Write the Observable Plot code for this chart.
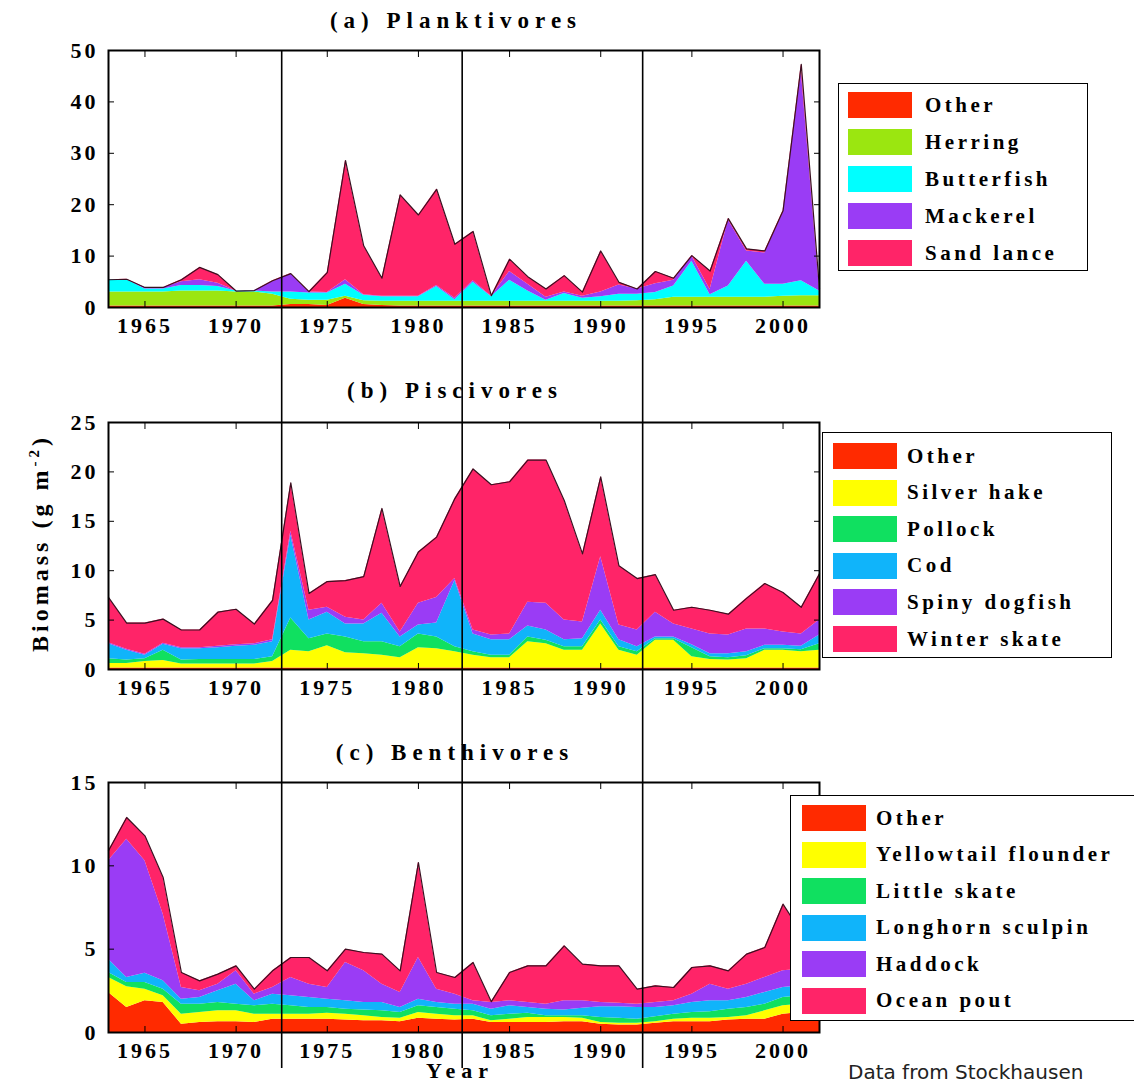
<!DOCTYPE html>
<html><head><meta charset="utf-8">
<script src="https://cdn.jsdelivr.net/npm/d3@7"></script>
<script src="https://cdn.jsdelivr.net/npm/@observablehq/plot@0.6"></script>
<style>
html,body{margin:0;padding:0;background:#fff;overflow:hidden;}
#fig{position:relative;width:1134px;height:1086px;overflow:hidden;font-family:"Liberation Serif","Times New Roman",serif;color:#000;}
.panel{position:absolute;left:0;}
.title{position:absolute;font-weight:bold;font-size:23px;letter-spacing:6px;white-space:nowrap;transform:translate(-50%,-50%);}
.legend{position:absolute;border:1.5px solid #000;background:#fff;box-sizing:border-box;}
.row{position:absolute;display:flex;align-items:center;}
.sw{width:64px;height:26px;}
.lt{font-weight:bold;font-size:21px;letter-spacing:3.5px;white-space:nowrap;}
.ylab{position:absolute;font-weight:bold;font-size:24px;letter-spacing:4px;white-space:nowrap;transform:translate(-50%,-50%) rotate(-90deg);}
.caption{position:absolute;font-family:"DejaVu Sans",sans-serif;font-size:20px;color:#222;white-space:nowrap;}
</style></head>
<body><div id="fig"></div>
<script>
const years = [1963,1964,1965,1966,1967,1968,1969,1970,1971,1972,1973,1974,1975,1976,1977,1978,1979,1980,1981,1982,1983,1984,1985,1986,1987,1988,1989,1990,1991,1992,1993,1994,1995,1996,1997,1998,1999,2000,2001,2002];
const xTicks = [1965,1970,1975,1980,1985,1990,1995,2000];
const regimeYears = [1972.5,1982.4,1992.3];

// (a) Planktivores
const plNames = ["Other","Herring","Butterfish","Mackerel","Sand lance"];
const plColors = ["#ff2a00","#9be610","#00ffff","#9a3cf5","#ff2468"];
const plOther = [0.3,0.3,0.3,0.3,0.3,0.3,0.3,0.3,0.3,0.3,0.6,0.6,0.4,1.8,0.6,0.4,0.3,0.3,0.3,0.3,0.3,0.3,0.3,0.3,0.3,0.3,0.3,0.3,0.3,0.3,0.3,0.3,0.3,0.3,0.3,0.3,0.3,0.3,0.3,0.3];
const plHerring = [2.7,2.7,2.7,2.7,2.9,2.9,2.9,2.7,2.7,2.3,1.0,0.8,1.0,0.4,0.7,0.8,0.9,0.9,0.9,0.9,0.9,0.9,0.9,0.9,0.9,0.9,0.9,0.9,0.9,1.0,1.2,1.7,1.7,1.7,1.7,1.7,1.7,1.9,2.0,2.0];
const plButterfish = [2.4,2.4,0.6,0.6,1.1,1.1,0.9,0.2,0.2,0.4,1.4,1.4,1.4,2.3,1.1,0.9,0.9,0.9,2.9,0.3,3.7,0.9,4.1,2.0,0.2,1.5,0.6,0.9,1.4,1.3,1.4,2.2,7.0,0.5,2.2,7.0,2.5,2.3,2.9,0.9];
const plMackerel = [0,0,0.3,0.3,0.7,1.1,0.6,0,0.1,2.0,3.5,0.2,0.1,0.9,0.1,0.1,0.1,0.1,0.2,0.3,0.3,0.1,1.7,1.3,0.6,0.3,0.4,0.9,1.8,1.0,1.7,1.1,1.0,1.0,12.8,2.0,6.1,13.9,40.8,0.4];
const plSandLance = [0,0.1,0,0,0.4,2.4,1.7,0,0,0.2,0.1,0.1,3.9,23.2,9.5,3.5,19.7,15.8,18.7,10.5,9.6,0.1,2.4,1.5,1.6,3.2,0.8,8.0,0.5,0,2.4,0.4,0.1,3.6,0.3,0.4,0.4,0.4,1.3,0.1];

// (b) Piscivores
const pvNames = ["Other","Silver hake","Pollock","Cod","Spiny dogfish","Winter skate"];
const pvColors = ["#ff2a00","#ffff00","#10e060","#10b4fa","#9a3cf5","#ff2468"];
const pvOther = [0.15,0.15,0.15,0.15,0.15,0.15,0.15,0.15,0.15,0.15,0.15,0.15,0.15,0.15,0.15,0.15,0.15,0.15,0.15,0.15,0.15,0.15,0.15,0.15,0.15,0.15,0.15,0.15,0.15,0.15,0.15,0.15,0.15,0.15,0.15,0.15,0.15,0.15,0.15,0.15];
const pvSilverHake = [0.45,0.45,0.65,0.75,0.4,0.4,0.4,0.4,0.4,0.65,1.8,1.65,2.25,1.55,1.45,1.3,1.05,2.05,1.95,1.65,1.3,1.05,1.05,2.65,2.45,1.8,1.8,4.45,1.8,1.3,2.8,2.8,1.15,0.85,0.8,0.95,1.8,1.8,1.65,1.8];
const pvPollock = [0.5,0.35,0.3,1.05,0.4,0.45,0.45,0.45,0.45,0.5,3.25,1.3,1.2,1.6,1.2,1.35,1.1,1.4,1.2,0.5,0.35,0.25,0.25,0.5,0.35,0.35,0.35,0.4,0.35,0.35,0.15,0.15,0.9,0.3,0.25,0.3,0.15,0.15,0.2,0.65];
const pvCod = [1.5,1.0,0.35,0.6,1.15,1.1,1.2,1.35,1.45,1.5,8.4,1.9,2.2,1.3,1.8,2.9,1.0,0.9,1.4,6.7,1.8,1.55,1.55,1.1,1.05,0.7,0.8,1.0,0.7,0.5,0.2,0.2,0.3,0.3,0.4,0.4,0.35,0.35,0.35,0.9];
const pvDogfish = [0.1,0.1,0.1,0.1,0.1,0.1,0.15,0.15,0.15,0.2,0.4,1.0,0.5,0.7,0.4,1.0,0.5,2.2,2.6,0.2,0.4,0.5,0.6,2.4,2.7,2.0,1.7,5.4,1.5,1.7,2.5,1.3,1.6,2.0,1.9,2.3,1.65,1.35,1.25,1.5];
const pvWinterSkate = [4.6,2.65,3.15,2.45,1.8,1.8,3.45,3.6,2.0,4.0,4.9,1.7,2.6,3.7,4.4,9.6,4.6,5.2,6.1,8.1,16.3,15.2,15.4,14.4,14.5,12.1,6.9,8.1,6.0,5.2,3.8,1.4,2.2,2.4,2.1,3.1,4.6,4.0,2.7,4.7];

// (c) Benthivores
const bvNames = ["Other","Yellowtail flounder","Little skate","Longhorn sculpin","Haddock","Ocean pout"];
const bvColors = ["#ff2a00","#ffff00","#10e060","#10b4fa","#9a3cf5","#ff2468"];
const bvOther = [2.4,1.5,1.9,1.8,0.5,0.6,0.65,0.65,0.6,0.8,0.8,0.8,0.8,0.75,0.7,0.7,0.65,0.85,0.8,0.75,0.8,0.6,0.6,0.6,0.6,0.65,0.65,0.5,0.45,0.45,0.55,0.65,0.65,0.65,0.75,0.8,0.8,1.1,1.2,1.2];
const bvYellowtail = [0.9,1.25,0.7,0.4,0.6,0.6,0.65,0.65,0.5,0.3,0.3,0.3,0.35,0.35,0.3,0.2,0.2,0.35,0.3,0.25,0.2,0.1,0.2,0.3,0.3,0.25,0.2,0.1,0.1,0.1,0.1,0.15,0.2,0.2,0.15,0.2,0.5,0.5,0.5,0.5];
const bvLittleSkate = [0.3,0.25,0.4,0.4,0.6,0.5,0.5,0.4,0.5,0.6,0.5,0.4,0.35,0.3,0.35,0.4,0.35,0.4,0.4,0.4,0.3,0.3,0.3,0.25,0.1,0.1,0.15,0.3,0.3,0.25,0.3,0.3,0.35,0.4,0.5,0.5,0.4,0.5,0.5,0.5];
const bvSculpin = [0.8,0.3,0.55,0.5,0.3,0.4,0.7,1.2,0.3,0.6,0.6,0.6,0.5,0.5,0.45,0.5,0.3,0.4,0.3,0.3,0.4,0.4,0.5,0.35,0.4,0.35,0.45,0.65,0.7,0.7,0.55,0.5,0.6,0.65,0.5,0.6,0.7,0.6,0.6,0.6];
const bvHaddock = [5.9,8.3,6.75,4.0,0.7,0.4,0.4,0.8,0.4,0.4,1.1,0.8,0.7,2.3,1.9,1.1,0.9,2.5,0.8,0.6,0.2,0.4,0.3,0.3,0.3,0.55,0.45,0.25,0.2,0.2,0.3,0.3,0.5,1.0,0.7,0.8,0.9,1.0,1.0,1.0];
const bvOceanPout = [0.6,1.3,1.5,2.2,0.9,0.6,0.6,0.3,0.3,1.0,1.2,1.6,1.0,0.8,1.1,1.8,1.3,5.7,1.0,1.0,2.3,0.05,1.7,2.2,2.3,3.3,2.2,2.2,2.25,0.9,1.0,0.8,1.6,1.1,1.1,1.8,1.8,4.0,2.2,1.2];

const fig = document.getElementById("fig");

function toLong(names, series) {
  const out = [];
  names.forEach((n, i) => series[i].forEach((v, j) => out.push({year: years[j], value: v, species: n})));
  return out;
}

function panel(cfg) {
  const data = toLong(cfg.names, cfg.series);
  const blank = () => "";
  const svg = Plot.plot({
    width: 1134, height: cfg.height,
    marginLeft: 108, marginRight: 315, marginTop: cfg.marginTop, marginBottom: cfg.marginBottom,
    style: {background: "transparent", fontFamily: "'Liberation Serif','Times New Roman',serif", fontSize: "22px", fontWeight: "bold", color: "#000", letterSpacing: "3px", overflow: "visible"},
    x: {domain: [1963, 2002]},
    y: {domain: [0, cfg.yMax]},
    color: {domain: cfg.names, range: cfg.colors},
    marks: [
      Plot.areaY(data, {x: "year", y: "value", fill: "species", order: cfg.names, curve: "linear"}),
      Plot.lineY(data, Plot.groupX({y: "sum"}, {x: "year", y: "value", stroke: "#3a1020", strokeWidth: 1.2})),
      Plot.ruleX(regimeYears, {stroke: "#000", strokeWidth: 1.6, insetTop: -cfg.ruleTop, insetBottom: -cfg.ruleBottom}),
      Plot.frame({stroke: "#000", strokeWidth: 2}),
      Plot.axisX({ticks: xTicks, tickSize: 0, tickPadding: 10, tickFormat: d => String(d), label: null}),
      Plot.axisX({anchor: "top", ticks: xTicks, tickSize: -6, tickFormat: blank, label: null}),
      Plot.axisX({anchor: "bottom", ticks: xTicks, tickSize: -6, tickFormat: blank, label: null}),
      Plot.axisY({ticks: cfg.yTicks, tickSize: 0, tickPadding: 10, tickFormat: d => String(d), label: null}),
      Plot.axisY({anchor: "left", ticks: cfg.yTicks, tickSize: -6, tickFormat: blank, label: null}),
      Plot.axisY({anchor: "right", ticks: cfg.yTicks, tickSize: -6, tickFormat: blank, label: null})
    ]
  });
  const wrap = document.createElement("div");
  wrap.className = "panel";
  wrap.style.top = cfg.top + "px";
  wrap.appendChild(svg);
  fig.appendChild(wrap);
}

function title(text, x, y) {
  const d = document.createElement("div");
  d.className = "title";
  d.style.left = x + "px"; d.style.top = y + "px";
  d.textContent = text;
  fig.appendChild(d);
}

function legend(names, colors, box) {
  const lg = document.createElement("div");
  lg.className = "legend";
  Object.assign(lg.style, {left: box.x + "px", top: box.y + "px", width: box.w + "px", height: box.h + "px"});
  names.forEach((n, i) => {
    const r = document.createElement("div");
    r.className = "row";
    r.style.left = box.swx + "px";
    r.style.top = (box.r0 + i * box.pitch - 13) + "px";
    const s = document.createElement("div");
    s.className = "sw"; s.style.background = colors[i];
    const t = document.createElement("div");
    t.className = "lt"; t.style.marginLeft = box.gap + "px"; t.textContent = n;
    r.appendChild(s); r.appendChild(t);
    lg.appendChild(r);
  });
  fig.appendChild(lg);
}

panel({names: plNames, colors: plColors, series: [plOther, plHerring, plButterfish, plMackerel, plSandLance],
  yMax: 50, yTicks: [0,10,20,30,40,50], top: 0, height: 370, marginTop: 50, marginBottom: 63, ruleTop: 0, ruleBottom: 63});
panel({names: pvNames, colors: pvColors, series: [pvOther, pvSilverHake, pvPollock, pvCod, pvDogfish, pvWinterSkate],
  yMax: 25, yTicks: [0,5,10,15,20,25], top: 370, height: 360, marginTop: 52, marginBottom: 61, ruleTop: 52, ruleBottom: 61});
panel({names: bvNames, colors: bvColors, series: [bvOther, bvYellowtail, bvLittleSkate, bvSculpin, bvHaddock, bvOceanPout],
  yMax: 15, yTicks: [0,5,10,15], top: 730, height: 356, marginTop: 52, marginBottom: 54, ruleTop: 52, ruleBottom: 36});

title("(a) Planktivores", 456, 21);
title("(b) Piscivores", 455, 391);
title("(c) Benthivores", 455, 753);

legend(plNames, plColors, {x: 838, y: 83, w: 250, h: 188, swx: 9, r0: 21, pitch: 37, gap: 13});
legend(pvNames, pvColors, {x: 822, y: 432, w: 290, h: 226, swx: 10, r0: 23, pitch: 36.6, gap: 10});
legend(bvNames, bvColors, {x: 790, y: 795, w: 360, h: 226, swx: 11, r0: 22, pitch: 36.5, gap: 10});

const yl = document.createElement("div");
yl.className = "ylab";
yl.style.left = "40px"; yl.style.top = "543px";
yl.innerHTML = "Biomass (g m<sup style='font-size:15px'>-2</sup>)";
fig.appendChild(yl);

const xl = document.createElement("div");
xl.className = "title";
xl.style.left = "460px"; xl.style.top = "1071px";
xl.style.fontSize = "22px";
xl.textContent = "Year";
fig.appendChild(xl);

const cap = document.createElement("div");
cap.className = "caption";
cap.style.left = "848px"; cap.style.top = "1060px";
cap.textContent = "Data from Stockhausen";
fig.appendChild(cap);
</script>
</body></html>
